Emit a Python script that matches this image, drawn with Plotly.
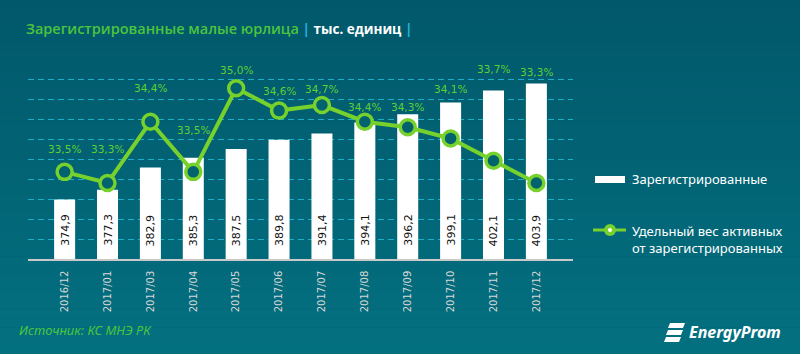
import plotly.graph_objects as go

# ---- data ----
months = ["2016/12", "2017/01", "2017/03", "2017/04", "2017/05", "2017/06",
          "2017/07", "2017/08", "2017/09", "2017/10", "2017/11", "2017/12"]
registered = [374.9, 377.3, 382.9, 385.3, 387.5, 389.8, 391.4, 394.1, 396.2, 399.1, 402.1, 403.9]
active_share = [33.5, 33.3, 34.4, 33.5, 35.0, 34.6, 34.7, 34.4, 34.3, 34.1, 33.7, 33.3]

title_main = "Зарегистрированные малые юрлица"
title_unit = "тыс. единиц"
legend_bar = "Зарегистрированные"
legend_line = ["Удельный вес активных", "от зарегистрированных"]
source_text = "Источник: КС МНЭ РК"
brand = "EnergyProm"

# ---- styling ----
W, H = 800, 354
Y_MIN, Y_MAX = 360, 410
GREEN_TXT = "#4cc43c"
LINE_GREEN = "#76d12c"
GRID = "#1ab0cc"
TOP = (1, 88, 106)
BOT = (3, 112, 128)
label_shift = [23, 34, 34, 42, 18, 20, 16, 15, 20, 49, 92, 111]

def px_x(x):
    return x / W

def px_y(y):
    return 1 - y / H

fig = go.Figure()

fig.add_trace(go.Bar(
    x=months, y=registered, marker=dict(color="white", line=dict(width=0)),
    showlegend=False, hoverinfo="skip",
))

fig.add_trace(go.Scatter(
    x=months, y=active_share, yaxis="y2", mode="lines+markers",
    line=dict(color=LINE_GREEN, width=4),
    marker=dict(symbol="circle", size=15, color="#02636f",
                line=dict(color=LINE_GREEN, width=3.5)),
    showlegend=False, hoverinfo="skip",
))

annotations = []
# bar value labels (rotated, near bar bottom)
for m, v in zip(months, registered):
    annotations.append(dict(
        x=m, y=Y_MIN, xref="x", yref="y", yshift=11, showarrow=False,
        text=f"{v:.1f}".replace(".", ","), textangle=-90,
        xanchor="center", yanchor="bottom",
        font=dict(color="#111111", size=11, family="DejaVu Sans"),
    ))

# line value labels
for m, v, s in zip(months, active_share, label_shift):
    annotations.append(dict(
        x=m, y=v, xref="x", yref="y2", yshift=s, showarrow=False,
        text=f"{v:.1f}%".replace(".", ","), yanchor="middle",
        font=dict(color="#5fcf34", size=10.5, family="DejaVu Sans"),
    ))

# title
annotations.append(dict(
    x=px_x(24), y=px_y(29), xref="paper", yref="paper", xanchor="left", yanchor="middle",
    showarrow=False,
    text=(f"<span style='color:{GREEN_TXT};font-weight:600'>{title_main}</span> "
          f"<span style='color:#27b3e0;font-size:13.5px'><b>|</b></span>"
          f"<span style='font-size:13.5px'> <b>{title_unit}</b> </span>"
          f"<span style='color:#27b3e0;font-size:13.5px'><b>|</b></span>"),
    font=dict(color="white", size=14.5, family="Open Sans"),
))

shapes = []
n = 40
for i in range(n):
    t = i / (n - 1)
    c = tuple(round(TOP[k] + (BOT[k] - TOP[k]) * t) for k in range(3))
    shapes.append(dict(type="rect", xref="paper", yref="paper", layer="below",
                       x0=0, x1=1, y0=1 - (i + 1) / n, y1=1 - i / n,
                       fillcolor=f"rgb{c}", line=dict(width=0)))

# legend (manual)
shapes.append(dict(type="rect", xref="paper", yref="paper",
                   x0=px_x(595), x1=px_x(625), y0=px_y(183), y1=px_y(176),
                   fillcolor="white", line=dict(width=0)))
annotations.append(dict(x=px_x(630), y=px_y(179), xref="paper", yref="paper",
                        xanchor="left", yanchor="middle", showarrow=False,
                        text=legend_bar, font=dict(color="white", size=13, family="Noto Sans")))
shapes.append(dict(type="line", xref="paper", yref="paper",
                   x0=px_x(593), x1=px_x(626), y0=px_y(230), y1=px_y(230),
                   line=dict(color=LINE_GREEN, width=3)))
shapes.append(dict(type="circle", xref="paper", yref="paper",
                   x0=px_x(604), x1=px_x(616), y0=px_y(236), y1=px_y(224),
                   fillcolor=LINE_GREEN, line=dict(width=0)))
shapes.append(dict(type="circle", xref="paper", yref="paper",
                   x0=px_x(608), x1=px_x(612), y0=px_y(232), y1=px_y(228),
                   fillcolor="white", line=dict(width=0)))
annotations.append(dict(x=px_x(630), y=px_y(239), xref="paper", yref="paper",
                        xanchor="left", yanchor="middle", showarrow=False, align="left",
                        text="<br>".join(legend_line),
                        font=dict(color="white", size=13, family="Noto Sans")))

# source
annotations.append(dict(x=px_x(17), y=px_y(330), xref="paper", yref="paper",
                        xanchor="left", yanchor="middle", showarrow=False,
                        text=f"<i>{source_text}</i>",
                        font=dict(color=GREEN_TXT, size=13, family="Liberation Sans Narrow, Noto Sans")))

# brand logo
annotations.append(dict(x=px_x(687), y=px_y(332), xref="paper", yref="paper",
                        xanchor="left", yanchor="middle", showarrow=False,
                        text=f"<b><i>{brand}</i></b>",
                        font=dict(color="white", size=16, family="Noto Sans")))
for (yt, yb, xl, xr) in [(323, 328, 668, 685), (330, 335, 666, 683), (337, 342, 664, 681)]:
    path = (f"M {px_x(xl+2)} {px_y(yt)} L {px_x(xr)} {px_y(yt)} "
            f"L {px_x(xr-2)} {px_y(yb)} L {px_x(xl)} {px_y(yb)} Z")
    shapes.append(dict(type="path", xref="paper", yref="paper", path=path,
                       fillcolor="white", line=dict(width=0)))

fig.update_layout(
    width=W, height=H,
    margin=dict(l=0, r=0, t=0, b=0),
    paper_bgcolor="rgb(2,100,117)",
    plot_bgcolor="rgba(0,0,0,0)",
    separators=", ",
    bargap=0.51,
    xaxis=dict(domain=[px_x(28), px_x(573)], type="category",
               tickangle=-90, tickfont=dict(color="#d8d8d8", size=10, family="DejaVu Sans"),
               showline=True, linecolor="#c9c9c9", linewidth=1.5,
               ticks="outside", ticklen=6, tickcolor="rgba(0,0,0,0)",
               showgrid=False, zeroline=False),
    yaxis=dict(domain=[px_y(259), px_y(59)], range=[Y_MIN, Y_MAX], dtick=5,
               showgrid=True, gridcolor=GRID, griddash="6px,4px", gridwidth=1,
               showticklabels=False, zeroline=False, showline=False, ticks=""),
    yaxis2=dict(overlaying="y", range=[31.936, 35.526], showgrid=False,
                showticklabels=False, zeroline=False, showline=False, ticks=""),
    shapes=shapes,
    annotations=annotations,
)

fig.write_html("out.html")
